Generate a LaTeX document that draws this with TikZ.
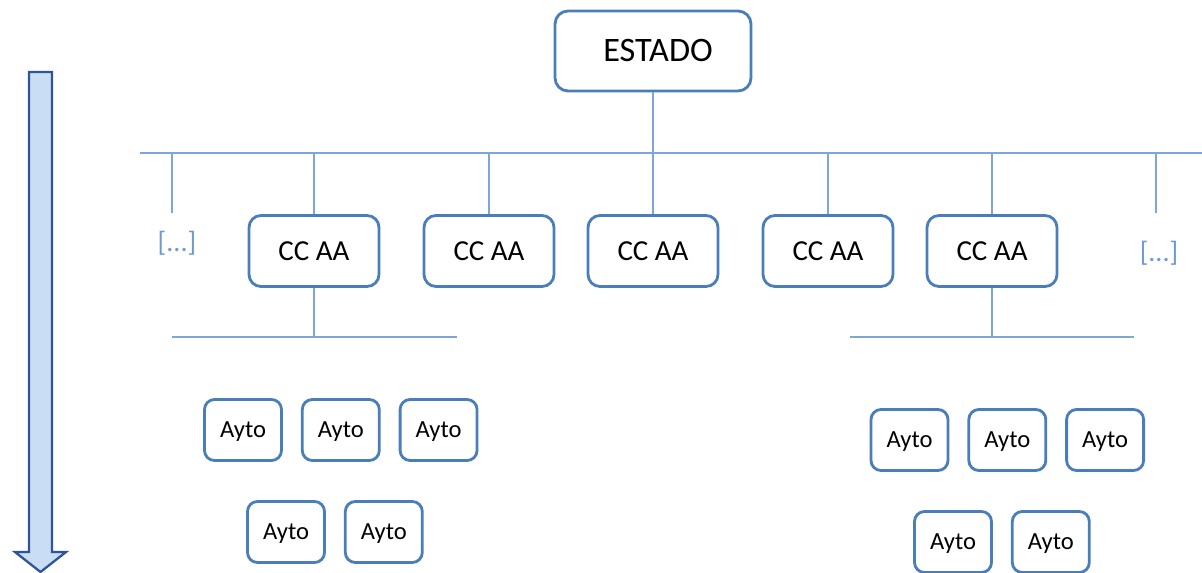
\documentclass[tikz,border=0pt]{standalone}
\usepackage{fontspec}
\setmainfont{Carlito}
\usetikzlibrary{positioning}
\definecolor{boxblue}{HTML}{4A7EBB}
\definecolor{lineblue}{HTML}{7FA6DB}
\definecolor{arrowfill}{HTML}{C9DDF5}
\definecolor{arrowdraw}{HTML}{2F5597}
\definecolor{dotsblue}{HTML}{6E9AD4}

\begin{document}
\begin{tikzpicture}[
    x=0.02cm,
    y=-0.02cm,
    % Styles
    estado/.style={
        rectangle,
        fill=white,
        rounded corners=2.6mm,
        minimum height=1.6cm,
        minimum width=3.92cm,
        inner sep=0pt,
        draw=boxblue,
        line width=1.6pt,
        font=\fontsize{19.5}{21}\selectfont
    },
    ccaa/.style={
        rectangle,
        fill=white,
        rounded corners=2.4mm,
        minimum height=1.42cm,
        minimum width=2.6cm,
        inner sep=0pt,
        text depth=0pt,
        draw=boxblue,
        line width=1.6pt,
        font=\fontsize{16.5}{18}\selectfont
    },
    ayto/.style={
        rectangle,
        fill=white,
        rounded corners=2mm,
        minimum height=1.22cm,
        minimum width=1.54cm,
        inner sep=0pt,
        text depth=0pt,
        draw=boxblue,
        line width=1.6pt,
        font=\fontsize{14}{16}\selectfont
    },
    dots/.style={
        text=dotsblue,
        inner sep=0pt,
        font=\fontsize{16}{18}\selectfont
    },
    link/.style={
        draw=lineblue,
        line width=1.1pt
    },
    bigarrow/.style={
        fill=arrowfill,
        draw=arrowdraw,
        line width=1.3pt
    }
]
    \useasboundingbox (0,0) rectangle (1202,573);

    % Layers
    \node[estado] (estado) at (653,51) {\hspace{0.2cm}ESTADO};

    \node[ccaa] (cc1) at (314,251) {CC AA};
    \node[ccaa] (cc2) at (489,251) {CC AA};
    \node[ccaa] (cc3) at (653,251) {CC AA};
    \node[ccaa] (cc4) at (828,251) {CC AA};
    \node[ccaa] (cc5) at (992,251) {CC AA};

    \node[dots] (dotsL) at (177,243) {[...]};
    \node[dots] (dotsR) at (1159,253) {[...]};

    \node[ayto] (a1) at (243,430) {Ayto};
    \node[ayto, right=0.36cm of a1] (a2) {Ayto};
    \node[ayto, right=0.36cm of a2] (a3) {Ayto};
    \node[ayto] (a4) at (286,532) {Ayto};
    \node[ayto, right=0.36cm of a4] (a5) {Ayto};

    \node[ayto] (b1) at (909.5,440) {Ayto};
    \node[ayto, right=0.36cm of b1] (b2) {Ayto};
    \node[ayto, right=0.36cm of b2] (b3) {Ayto};
    \node[ayto] (b4) at (953,542) {Ayto};
    \node[ayto, right=0.36cm of b4] (b5) {Ayto};

    \coordinate (busL) at (140,153);
    \coordinate (busR) at (1202,153);
    \coordinate (tipL) at (172,213);
    \coordinate (tipR) at (1156,213);
    \coordinate (subL1) at (172,337);
    \coordinate (subL2) at (457,337);
    \coordinate (subR1) at (850,337);
    \coordinate (subR2) at (1134,337);

    % Paths
    \draw[link] (busL) -- (busR);
    \draw[link] (estado.south) -- (estado.south |- busL);
    \foreach \n in {cc1,cc2,cc3,cc4,cc5}
        \draw[link] (\n.north) -- (\n.north |- busL);
    \draw[link] (tipL) -- (tipL |- busL);
    \draw[link] (tipR) -- (tipR |- busL);
    \draw[link] (cc1.south) -- (cc1.south |- subL1);
    \draw[link] (subL1) -- (subL2);
    \draw[link] (cc5.south) -- (cc5.south |- subR1);
    \draw[link] (subR1) -- (subR2);

    % Arrow
    \draw[bigarrow] (29,72) -- (52,72) -- (52,552) -- (66,552) -- (40.5,572)
        -- (15,552) -- (29,552) -- cycle;
\end{tikzpicture}
\end{document}
